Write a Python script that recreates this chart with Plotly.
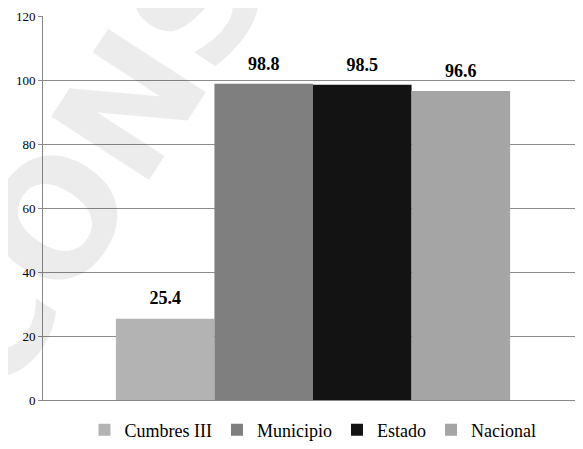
import plotly.graph_objects as go

categories = [""]
series_names = ["Cumbres III", "Municipio", "Estado", "Nacional"]
series_values = [25.4, 98.8, 98.5, 96.6]
series_colors = ["#b3b3b3", "#7f7f7f", "#131313", "#a5a5a5"]
y_ticks = [0, 20, 40, 60, 80, 100, 120]
watermark_text = "CONSULTA"

SERIF = "Times New Roman"

fig = go.Figure()

# faint diagonal watermark seen behind the chart
fig.add_annotation(
    text=f"<b>{watermark_text}</b>", xref="paper", yref="paper",
    x=0.309, y=1.081, xanchor="center", yanchor="middle",
    textangle=-57, showarrow=False,
    font=dict(family="DejaVu Sans", size=160, color="rgba(0,0,0,0.075)"),
)

for name, val, col in zip(series_names, series_values, series_colors):
    fig.add_trace(go.Bar(
        x=categories, y=[val], name=name, offsetgroup=name,
        marker=dict(color=col, line=dict(width=0)),
    ))
for name, val in zip(series_names, series_values):
    fig.add_trace(go.Scatter(
        x=categories, y=[val], name=name + " label", offsetgroup=name,
        mode="markers+text", marker=dict(size=14, opacity=0),
        text=[f"<b>{val:.1f}</b>"], textposition="top center",
        textfont=dict(family=SERIF, size=18, color="black"),
        showlegend=False, hoverinfo="skip", cliponaxis=False,
    ))

fig.update_layout(
    width=575, height=441,
    margin=dict(l=35, r=0, t=8, b=49),
    paper_bgcolor="white", plot_bgcolor="white",
    barmode="group", bargap=0.27, bargroupgap=0,
    scattermode="group", scattergap=0.27,
    font=dict(family=SERIF, color="black", size=13),
    showlegend=True,
    legend=dict(orientation="h", x=0.5, xanchor="center", y=-0.078, yanchor="middle",
                font=dict(size=18, family=SERIF, color="black"),
                itemwidth=30, tracegroupgap=0, bgcolor="rgba(0,0,0,0)"),
)
fig.update_xaxes(showticklabels=False, showline=True, linecolor="#888888", linewidth=1,
                 showgrid=False, ticks="")
fig.update_yaxes(range=[0, 120], tickvals=y_ticks, showgrid=True, gridcolor="#8c8c8c",
                 gridwidth=1, showline=True, linecolor="#888888", linewidth=1,
                 ticks="outside", ticklen=4, tickcolor="#888888",
                 tickfont=dict(family=SERIF, size=13, color="black"),
                 zeroline=False)

fig.write_html("out.html")
